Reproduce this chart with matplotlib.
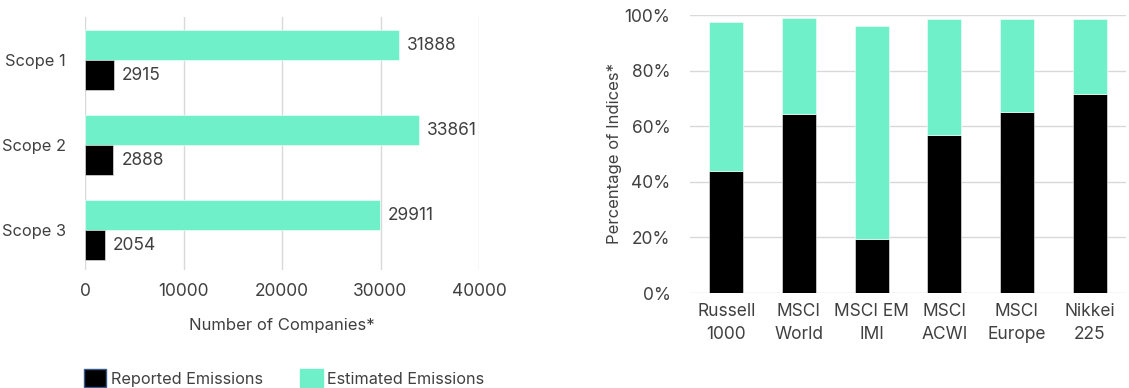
import matplotlib.pyplot as plt
from matplotlib.patches import Patch
import numpy as np

# left panel: number of companies per scope
scopes = ["Scope 1", "Scope 2", "Scope 3"]
estimated_counts = [31888, 33861, 29911]
reported_counts = [2915, 2888, 2054]

# right panel: share of index constituents
indices = ["Russell\n1000", "MSCI\nWorld", "MSCI EM\nIMI", "MSCI\nACWI", "MSCI\nEurope", "Nikkei\n225"]
reported_pct = [43.9, 64.5, 19.4, 56.9, 65.1, 71.7]
estimated_pct = [53.6, 34.5, 76.5, 41.5, 33.6, 27.0]

TEAL = "#6ff0c8"
TXT = "#404040"
GRID = "#d9d9d9"

plt.rcParams["font.family"] = ["Inter", "DejaVu Sans"]
plt.rcParams["font.size"] = 12

fig = plt.figure(figsize=(11.29, 3.88), dpi=100)

# ---- left: horizontal bars
ax1 = fig.add_axes([85 / 1129, 1 - 270 / 388, 394 / 1129, 253 / 388])
y = np.arange(len(scopes))
h = 0.353
ax1.barh(y - h / 2, estimated_counts, height=h, color=TEAL, edgecolor="#e8fff7", linewidth=0.5, zorder=3)
ax1.barh(y + h / 2, reported_counts, height=h, color="black", edgecolor="#dddddd", linewidth=0.5, zorder=3)
for i in range(len(scopes)):
    ax1.text(estimated_counts[i] + 800, y[i] - h / 2, str(estimated_counts[i]),
             va="center", ha="left", color=TXT, fontsize=12.5)
    ax1.text(reported_counts[i] + 800, y[i] + h / 2, str(reported_counts[i]),
             va="center", ha="left", color=TXT, fontsize=12.5)
ax1.set_ylim(2.47, -0.506)
ax1.set_xlim(0, 40000)
ax1.set_xticks([0, 10000, 20000, 30000, 40000])
ax1.set_yticks(y)
ax1.set_yticklabels(scopes, fontsize=11.8)
ax1.grid(axis="x", color=GRID, linewidth=1, zorder=0)
for s in ax1.spines.values():
    s.set_visible(False)
ax1.tick_params(length=0, colors=TXT)
ax1.tick_params(axis="x", pad=9, labelsize=12.5)
ax1.tick_params(axis="y", pad=14)
ax1.set_xlabel("Number of Companies*", color=TXT, fontsize=12, labelpad=13)

# ---- right: stacked bars
ax2 = fig.add_axes([690 / 1129, 1 - 293 / 388, 436 / 1129, 278 / 388])
x = np.arange(len(indices))
w = 0.47
ax2.bar(x, reported_pct, width=w, color="black", edgecolor="#dddddd", linewidth=0.5, zorder=3)
ax2.bar(x, estimated_pct, width=w, bottom=reported_pct, color=TEAL, edgecolor="#e8fff7", linewidth=0.5, zorder=3)
ax2.set_xlim(-0.5, 5.5)
ax2.set_ylim(0, 100)
ax2.set_yticks(range(0, 101, 20))
ax2.set_yticklabels([f"{v}%" for v in range(0, 101, 20)])
ax2.set_xticks(x)
ax2.set_xticklabels(indices, linespacing=1.45)
ax2.grid(axis="y", color=GRID, linewidth=1, zorder=0)
for s in ax2.spines.values():
    s.set_visible(False)
ax2.tick_params(length=0, colors=TXT, labelsize=12.5)
ax2.tick_params(axis="x", pad=7)
ax2.tick_params(axis="y", pad=14)
ax2.set_ylabel("Percentage of Indices*", color=TXT, fontsize=12, labelpad=2)

# ---- legend
handles = [Patch(facecolor="black", edgecolor="#3a5a8c", linewidth=1),
           Patch(facecolor=TEAL, edgecolor=TEAL)]
fig.legend(handles, ["Reported Emissions", "Estimated Emissions"],
           loc="lower left", bbox_to_anchor=(69 / 1129, -0.035), ncol=2, frameon=False,
           handlelength=1.4, handleheight=1.3, handletextpad=0.3, columnspacing=2.25,
           fontsize=11.7, labelcolor=TXT)

fig.savefig("out.png", dpi=100)
